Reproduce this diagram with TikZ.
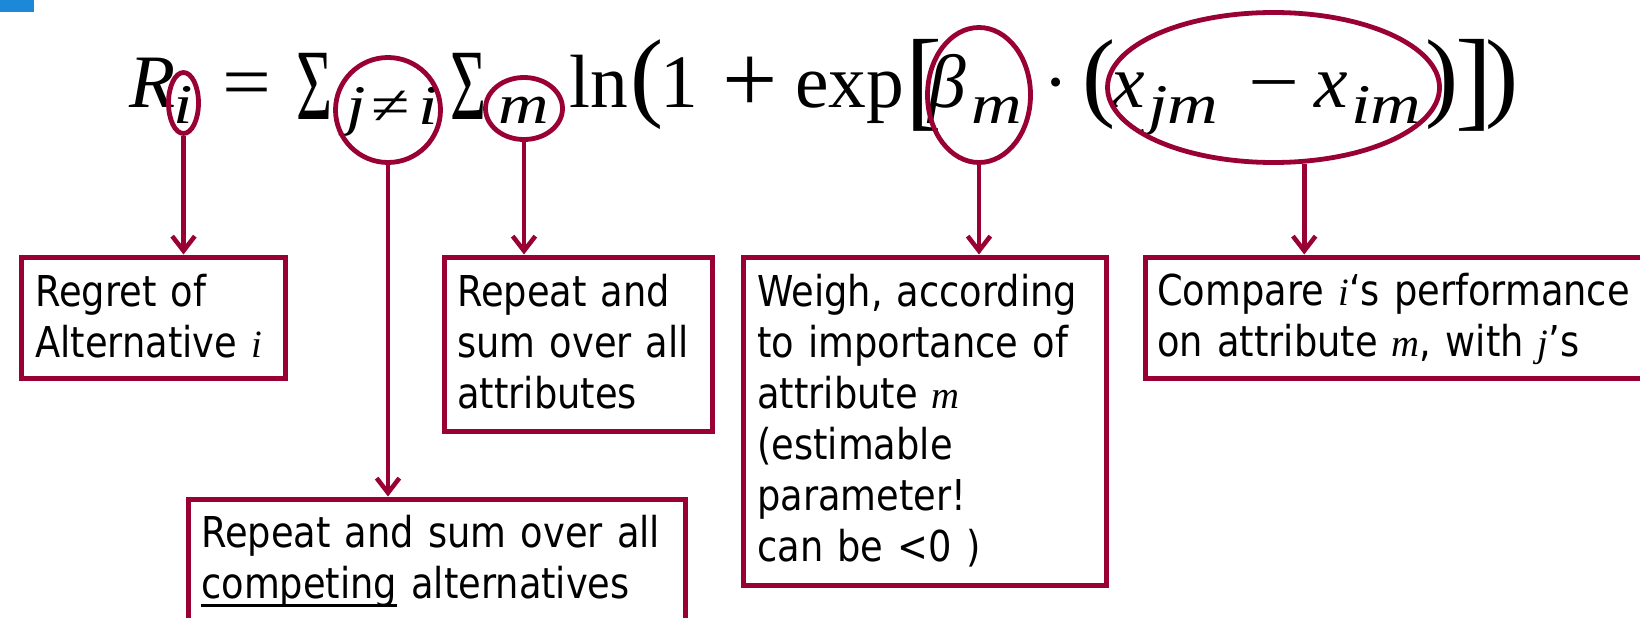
\documentclass[tikz,border=0pt]{standalone}
\usepackage{fontspec}
\usepackage{graphicx}
\setmainfont{DejaVu Sans}[FakeStretch=0.865]
\newfontfamily\eqf{Liberation Serif}
\newfontfamily\subfnt{Liberation Serif}[FakeStretch=1.25]
\usetikzlibrary{arrows.meta,shapes.geometric}
\definecolor{wine}{RGB}{153,0,51}
\definecolor{cornerblue}{RGB}{30,136,216}
\newcommand\myul[1]{\leavevmode\setbox0=\hbox{#1}\rlap{\rule[-6.5pt]{\wd0}{2pt}}\box0\relax}
\newcommand\mi[1]{{\eqf\itshape\fontsize{29pt}{38pt}\selectfont #1}}
\tikzset{
  eqmain/.style={inner sep=0pt, anchor=base west, font=\eqf\fontsize{56.6pt}{60pt}\selectfont},
  eqsub/.style={inner sep=0pt, anchor=base west, font=\subfnt\fontsize{42pt}{46pt}\selectfont},
  delim/.style={inner sep=0pt, anchor=center, font=\eqf\fontsize{56.6pt}{60pt}\selectfont},
  ring/.style={draw=wine, line width=3.6pt, ellipse, inner sep=0pt},
  boxframe/.style={draw=wine, line width=3.75pt, anchor=north west, inner sep=0pt},
  txt/.style={anchor=base west, inner sep=0pt, text width=600pt, align=left, font=\fontsize{31.9pt}{38.25pt}\selectfont},
  arr/.style={draw=wine, line width=3.4pt, -{Straight Barb[length=11pt,width=17pt]}}
}
\begin{document}
\begin{tikzpicture}[x=0.75pt,y=-0.75pt]
\useasboundingbox (0,0) rectangle (1640,617);
\fill[cornerblue] (0,0) rectangle (34,12);

% formula
\node[eqmain] (fR) at (129,107) {\itshape R};
\node[eqsub] (fRi) at (173,123) {\itshape i};
\node[eqmain] (feq) at (222,107) {\scalebox{1.15}[1]{=}};
\node[eqmain] (fs1) at (296,119) {\scalebox{0.82}[1.34]{Σ}};
\node[eqsub] (fj) at (346,124) {\itshape j};
\node[eqsub] (fne) at (371,124) {≠};
\node[eqsub] (fi) at (418,124) {\itshape i};
\node[eqmain] (fs2) at (450,119) {\scalebox{0.82}[1.34]{Σ}};
\node[eqsub] (fm) at (498,123) {\itshape m};
\node[eqmain] (fln) at (569,107) {ln};
\node[delim] (fp1) at (647.5,85) {\resizebox*{!}{67.5pt}{(}};
\node[eqmain] (f1) at (660,107) {1};
\node[eqmain] (fplus) at (722,107) {\raisebox{-4pt}{\scalebox{1.3}{+}}};
\node[eqmain] (fexp) at (795,107) {exp};
\node[delim] (fbr1) at (924,85) {\resizebox*{!}{69pt}{[}};
\node[eqmain] (fbeta) at (928,107) {\itshape β};
\node[eqsub] (fbm) at (971,123) {\itshape m};
\node[eqmain, anchor=base] (fdot) at (1056,107) {·};
\node[delim] (fp2) at (1099.5,85) {\resizebox*{!}{67.5pt}{(}};
\node[eqmain] (fx1) at (1111,107) {\itshape x};
\node[eqsub] (fjm) at (1148,123) {\itshape jm};
\node[eqmain] (fminus) at (1248,107) {\scalebox{1.2}[1]{−}};
\node[eqmain] (fx2) at (1314,107) {\itshape x};
\node[eqsub] (fim) at (1351,123) {\itshape im};
\node[delim] (fp3) at (1442.5,85) {\resizebox*{!}{67.5pt}{)}};
\node[delim] (fbr2) at (1473.5,85) {\resizebox*{!}{69pt}{]}};
\node[delim] (fp4) at (1502.5,85) {\resizebox*{!}{67.5pt}{)}};

% rings
\node[ring, minimum width=22.5pt, minimum height=45.75pt] (ei) at (183.5,103) {};
\node[ring, minimum width=78.75pt, minimum height=78.75pt] (ej) at (388,110) {};
\node[ring, minimum width=57.75pt, minimum height=46.5pt] (em) at (524,108.5) {};
\node[ring, minimum width=77.25pt, minimum height=101.25pt] (eb) at (979,95) {};
\node[ring, minimum width=249pt, minimum height=112.5pt] (ex) at (1273.5,87.5) {};

% boxes
\node[boxframe, minimum width=198pt, minimum height=90.75pt] (b1) at (18.5,254.5) {};
\node[boxframe, minimum width=201pt, minimum height=130.5pt] (b2) at (441.5,254.5) {};
\node[boxframe, minimum width=372.75pt, minimum height=107.6pt] (b3) at (185.5,496.5) {};
\node[boxframe, minimum width=272.25pt, minimum height=246.4pt] (b4) at (741,254.5) {};
\node[boxframe, minimum width=403pt, minimum height=90.75pt] (b5) at (1142.5,254.5) {};

% texts
\node[txt] (t1) at (35,306) {Regret of\\Alternative \mi{i}};
\node[txt] (t2) at (457,306) {Repeat and\\sum over all\\attributes};
\node[txt] (t3) at (201,547) {Repeat and sum over all\\\myul{competing} alternatives};
\node[txt] (t4) at (757,306) {Weigh, according\\to importance of\\attribute \mi{m}\\(estimable\\parameter!\\can be <0 )};
\node[txt] (t5) at (1157,305) {Compare \mi{i}‘s performance\\on attribute \mi{m}, with \mi{j}’s};

% arrows
\draw[arr] (ei.south) -- (ei.south |- b1.north);
\draw[arr] (ej.south) -- (ej.south |- b3.north);
\draw[arr] (em.south) -- (em.south |- b2.north);
\draw[arr] (eb.south) -- (eb.south |- b4.north);
\draw[arr] (ex.-68.5) -- (ex.-68.5 |- b5.north);
\end{tikzpicture}
\end{document}
